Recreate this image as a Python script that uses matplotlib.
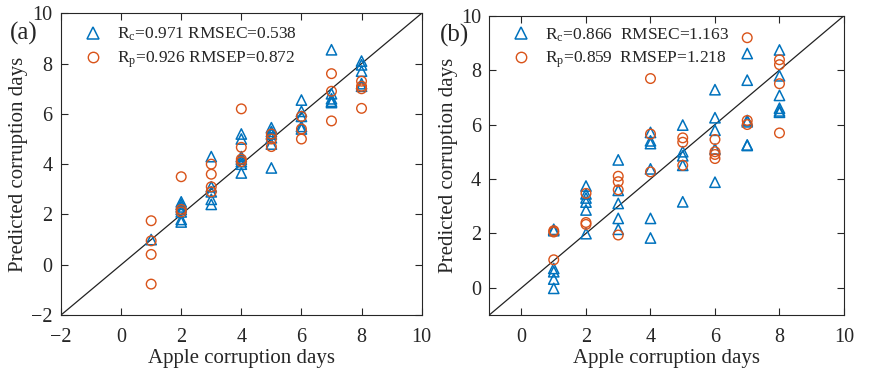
import numpy as np
import matplotlib.pyplot as plt
from matplotlib.lines import Line2D

plt.rcParams["font.family"] = ["Liberation Serif", "DejaVu Serif"]
plt.rcParams["mathtext.fontset"] = "custom"
plt.rcParams["mathtext.rm"] = "Liberation Serif"
plt.rcParams["mathtext.it"] = "Liberation Serif"

BLUE = "#0072BD"
ORANGE = "#D95319"
GREY = "#262626"

# ---- (a) calibration (triangles) / prediction (circles)
a_cal_x = [1, 2, 2, 2, 2, 2, 2, 2, 3, 3, 3, 3, 3, 4, 4, 4, 4, 4, 4, 4,
           5, 5, 5, 5, 5, 5, 6, 6, 6, 6, 6, 7, 7, 7, 7, 7, 8, 8, 8, 8, 8]
a_cal_y = [1.0, 2.5, 2.4, 2.3, 2.2, 2.1, 1.8, 1.7, 4.3, 3.1, 2.9, 2.6, 2.4,
           5.2, 5.0, 4.3, 4.2, 4.1, 4.0, 3.65,
           5.45, 5.3, 5.2, 5.05, 4.8, 3.85, 6.55, 6.1, 5.9, 5.5, 5.4,
           8.55, 6.8, 6.6, 6.5, 6.45, 8.1, 7.95, 7.7, 7.2, 7.1]
a_pre_x = [1, 1, 1, 1, 2, 2, 2, 3, 3, 3, 3, 4, 4, 4, 4, 5, 5, 5,
           6, 6, 6, 7, 7, 7, 8, 8, 8, 8]
a_pre_y = [1.75, 0.95, 0.41, -0.77, 3.5, 2.2, 2.1, 4.0, 3.6, 3.1, 2.9,
           6.2, 4.67, 4.2, 4.1, 5.2, 5.0, 4.7, 5.9, 5.4, 5.0,
           7.6, 6.9, 5.72, 7.3, 7.1, 7.0, 6.22]

# ---- (b)
b_cal_x = [1, 1, 1, 1, 1, 1, 2, 2, 2, 2, 2, 2, 3, 3, 3, 3, 3,
           4, 4, 4, 4, 4, 4, 5, 5, 5, 5, 5, 6, 6, 6, 6, 6,
           7, 7, 7, 7, 7, 7, 8, 8, 8, 8, 8, 8]
b_cal_y = [2.15, 2.1, 0.71, 0.59, 0.32, -0.02,
           3.74, 3.45, 3.3, 3.15, 2.86, 1.99,
           4.7, 3.58, 3.1, 2.55, 2.15,
           5.71, 5.4, 5.3, 4.37, 2.55, 1.83,
           5.98, 5.0, 4.85, 4.5, 3.16,
           7.28, 6.25, 5.79, 5.1, 3.88,
           8.61, 7.63, 6.15, 6.1, 5.23, 5.25,
           8.74, 7.79, 7.07, 6.6, 6.5, 6.45]
b_pre_x = [1, 1, 1, 2, 2, 2, 3, 3, 3, 3, 4, 4, 4, 5, 5, 5,
           6, 6, 6, 6, 7, 7, 7, 8, 8, 8, 8]
b_pre_y = [2.1, 2.05, 1.03, 3.47, 2.4, 2.33, 4.1, 3.9, 3.6, 1.94,
           7.69, 5.65, 4.26, 5.51, 5.35, 4.5,
           5.45, 5.0, 4.9, 4.75, 9.19, 6.15, 6.0,
           8.38, 8.2, 7.5, 5.69]

a_labels = [r"R$_{\mathrm{c}}$=0.971 RMSEC=0.538",
            r"R$_{\mathrm{p}}$=0.926 RMSEP=0.872"]
b_labels = [r"R$_{\mathrm{c}}$=0.866  RMSEC=1.163",
            r"R$_{\mathrm{p}}$=0.859  RMSEP=1.218"]


def panel(ax, cx, cy, px, py, lo, labels, tag, tag_x, leg_y, ticks):
    ax.plot([lo, 10], [lo, 10], color="#222222", lw=0.9, zorder=1)
    ax.scatter(cx, cy, marker="^", s=55, facecolors="none",
               edgecolors=BLUE, linewidths=1.1, zorder=2)
    ax.scatter(px, py, marker="o", s=48, facecolors="none",
               edgecolors=ORANGE, linewidths=1.0, zorder=3)
    ax.set_xlim(lo, 10)
    ax.set_ylim(lo, 10)
    ax.set_xticks(ticks)
    ax.set_yticks(ticks)
    ax.tick_params(direction="in", top=True, right=True, length=5,
                   width=0.8, colors=GREY, labelsize=14.5)
    ax.tick_params(axis="x", pad=9)
    ax.tick_params(axis="y", pad=6)
    for s in ax.spines.values():
        s.set_color(GREY)
        s.set_linewidth(0.8)
    ax.set_xlabel("Apple corruption days", fontsize=15, color=GREY, labelpad=2)
    ax.set_ylabel("Predicted corruption days", fontsize=15, color=GREY, labelpad=2)
    handles = [Line2D([], [], ls="none", marker="^", ms=8, mfc="none",
                      mec=BLUE, mew=1.1),
               Line2D([], [], ls="none", marker="o", ms=7.5, mfc="none",
                      mec=ORANGE, mew=1.0)]
    leg = ax.legend(handles, labels, loc="upper left", frameon=False,
                    fontsize=12.5, handlelength=1.2, handletextpad=0.8,
                    labelspacing=0.35, borderaxespad=0.3,
                    bbox_to_anchor=(0.025, leg_y))
    for t in leg.get_texts():
        t.set_color(GREY)
    ax.text(tag_x, 0.934, tag, transform=ax.transAxes, fontsize=18,
            color=GREY, ha="left", va="center")


fig = plt.figure(figsize=(8.69, 3.70), dpi=100)
ax1 = fig.add_axes([0.0702, 0.1486, 0.4150, 0.8154])
ax2 = fig.add_axes([0.5630, 0.1486, 0.4082, 0.8090])

panel(ax1, a_cal_x, a_cal_y, a_pre_x, a_pre_y, -2, a_labels, "(a)", -0.143,
      0.998, np.arange(-2, 11, 2))
panel(ax2, b_cal_x, b_cal_y, b_pre_x, b_pre_y, -1, b_labels, "(b)", -0.14,
      1.005, np.arange(0, 11, 2))

fig.savefig("out.png", dpi=100)
